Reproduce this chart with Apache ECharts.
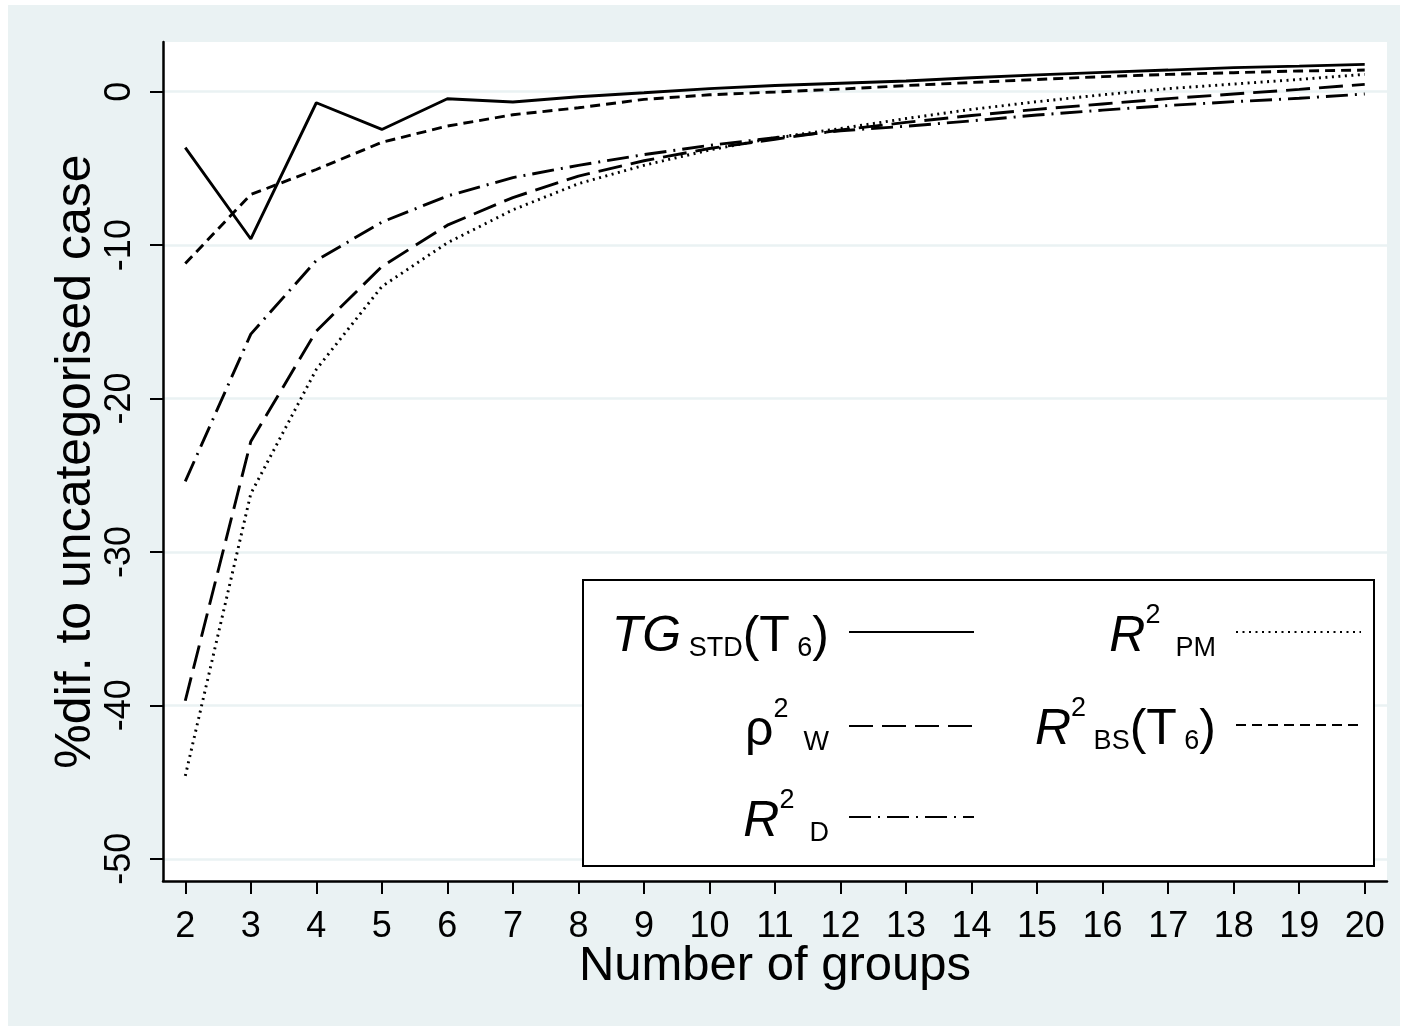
<!DOCTYPE html>
<html>
<head>
<meta charset="utf-8">
<script src="https://cdn.jsdelivr.net/npm/echarts@6/dist/echarts.min.js"></script>
<style>
  html, body { margin: 0; padding: 0; background: #fff; }
  #chart { width: 1408px; height: 1031px; }
</style>
</head>
<body>
<div id="chart"></div>
<script>
// number of groups (x axis)
var groups = [2, 3, 4, 5, 6, 7, 8, 9, 10, 11, 12, 13, 14, 15, 16, 17, 18, 19, 20];
// % difference to the uncategorised case
var tgStd = [-3.65, -9.6, -0.72, -2.46, -0.46, -0.67, -0.33, -0.07, 0.2, 0.4, 0.55, 0.7, 0.91, 1.1, 1.26, 1.41, 1.57, 1.67, 1.78];
var rhoW  = [-39.7, -22.8, -15.6, -11.4, -8.7, -6.9, -5.5, -4.5, -3.7, -3.1, -2.5, -2.0, -1.55, -1.15, -0.8, -0.45, -0.15, 0.15, 0.48];
var r2D   = [-25.4, -15.8, -11.0, -8.5, -6.8, -5.6, -4.8, -4.1, -3.5, -3.0, -2.55, -2.25, -1.9, -1.52, -1.2, -0.9, -0.65, -0.43, -0.15];
var r2PM  = [-44.6, -26.2, -18.1, -12.7, -9.85, -7.7, -6.0, -4.8, -3.8, -3.0, -2.4, -1.75, -1.15, -0.65, -0.2, 0.2, 0.5, 0.8, 1.13];
var r2BS  = [-11.2, -6.7, -5.07, -3.3, -2.24, -1.5, -1.05, -0.5, -0.2, -0.02, 0.17, 0.4, 0.6, 0.8, 0.98, 1.13, 1.24, 1.35, 1.41];
// tick labels
var xTicks = groups;
var yTicks = [-50, -40, -30, -20, -10, 0];

(function() {
    var myChart = echarts.init(document.getElementById('chart'));
    var FONT = '"Liberation Sans", Arial, sans-serif';

    function pairs(arr) {
        return groups.map(function(g, i) { return [g, arr[i]]; });
    }

    // legend labels as rich text (super/subscripts)
    var legendText = {
        'TG_STD(T_6)': '{it|TG}{sub| STD}{n|(T}{sub| 6}{n|)}{g|}',
        'rho2_W': '{n|ρ}{sup|2}{sub|  W}{g|}',
        'R2_D': '{it|R}{sup|2}{sub|  D}{g|}',
        'R2_PM': '{it|R}{sup|2}{sub|  PM}{g|}',
        'R2_BS(T_6)': '{it|R}{sup|2}{sub| BS}{n|(T}{sub| 6}{n|)}{g|}'
    };
    var rich = {
        it: { fontFamily: FONT, fontSize: 50, fontStyle: 'italic', lineHeight: 60, verticalAlign: 'bottom', color: '#000' },
        n: { fontFamily: FONT, fontSize: 50, lineHeight: 60, verticalAlign: 'bottom', color: '#000' },
        sub: { fontFamily: FONT, fontSize: 27, lineHeight: 32, verticalAlign: 'bottom', color: '#000' },
        sup: { fontFamily: FONT, fontSize: 27, lineHeight: 16, verticalAlign: 'top', color: '#000' },
        g: { width: 15, lineHeight: 60, verticalAlign: 'bottom' }
    };

    function oneLegend(name, right, top) {
        return {
            data: [name],
            right: right,
            top: top,
            align: 'right',
            padding: 0,
            itemWidth: 125,
            itemHeight: 14,
            selectedMode: false,
            itemStyle: { opacity: 0 },
            formatter: function(n) { return legendText[n]; },
            textStyle: { rich: rich }
        };
    }

    function lineSeries(name, arr, dash) {
        return {
            name: name,
            type: 'line',
            data: pairs(arr),
            symbol: 'none',
            lineStyle: { color: '#000', width: 2.9, type: dash, cap: 'butt' },
            itemStyle: { color: '#000' },
            animation: false
        };
    }

    var option = {
        backgroundColor: '#fff',
        animation: false,
        textStyle: { fontFamily: FONT },
        graphic: [
            {
                type: 'rect', z: -10,
                shape: { x: 8, y: 5, width: 1392, height: 1021 },
                style: { fill: '#EAF2F3' }
            },
            {
                type: 'rect', z: 3,
                shape: { x: 583, y: 580, width: 791, height: 286 },
                style: { fill: '#fff', stroke: '#000', lineWidth: 2 }
            }
        ],
        legend: [
            oneLegend('TG_STD(T_6)', 433, 612),
            oneLegend('rho2_W', 433, 696),
            oneLegend('R2_D', 433, 787),
            oneLegend('R2_PM', 46, 602),
            oneLegend('R2_BS(T_6)', 46, 695)
        ],
        grid: {
            left: 163, right: 21, top: 42, bottom: 150,
            show: true, backgroundColor: '#fff', borderWidth: 0,
            containLabel: false, outerBoundsMode: 'none'
        },
        xAxis: {
            type: 'value',
            min: 1.66, max: 20.34,
            name: 'Number of groups',
            nameLocation: 'middle',
            nameGap: 61,
            nameMoveOverlap: false,
            nameTextStyle: { fontFamily: FONT, fontSize: 49, color: '#000' },
            axisLine: { show: true, onZero: false, lineStyle: { color: '#000', width: 2.5 } },
            axisTick: { show: true, length: 13, customValues: xTicks, lineStyle: { color: '#000', width: 2 } },
            axisLabel: { customValues: xTicks, margin: 28, fontFamily: FONT, fontSize: 36, color: '#000' },
            splitLine: { show: false }
        },
        yAxis: {
            type: 'value',
            min: -51.45, max: 3.24,
            name: '%dif. to uncategorised case',
            nameLocation: 'middle',
            nameGap: 62,
            nameMoveOverlap: false,
            nameTextStyle: { fontFamily: FONT, fontSize: 50, color: '#000' },
            axisLine: { show: true, onZero: false, lineStyle: { color: '#000', width: 2.5 } },
            axisTick: { show: true, length: 13, customValues: yTicks, lineStyle: { color: '#000', width: 2 } },
            axisLabel: { customValues: yTicks, rotate: 90, margin: 25, fontFamily: FONT, fontSize: 36, color: '#000' },
            splitLine: { show: true, lineStyle: { color: '#EAF2F3', width: 2.5 } }
        },
        series: [
            lineSeries('TG_STD(T_6)', tgStd, 'solid'),
            lineSeries('R2_PM', r2PM, [2, 4.5]),
            lineSeries('rho2_W', rhoW, [24, 9]),
            lineSeries('R2_BS(T_6)', r2BS, [10, 6]),
            lineSeries('R2_D', r2D, [22, 7, 2, 7])
        ]
    };

    myChart.setOption(option);
    window.addEventListener("resize", function() {
        myChart.resize();
    });
})();
</script>
</body>
</html>
